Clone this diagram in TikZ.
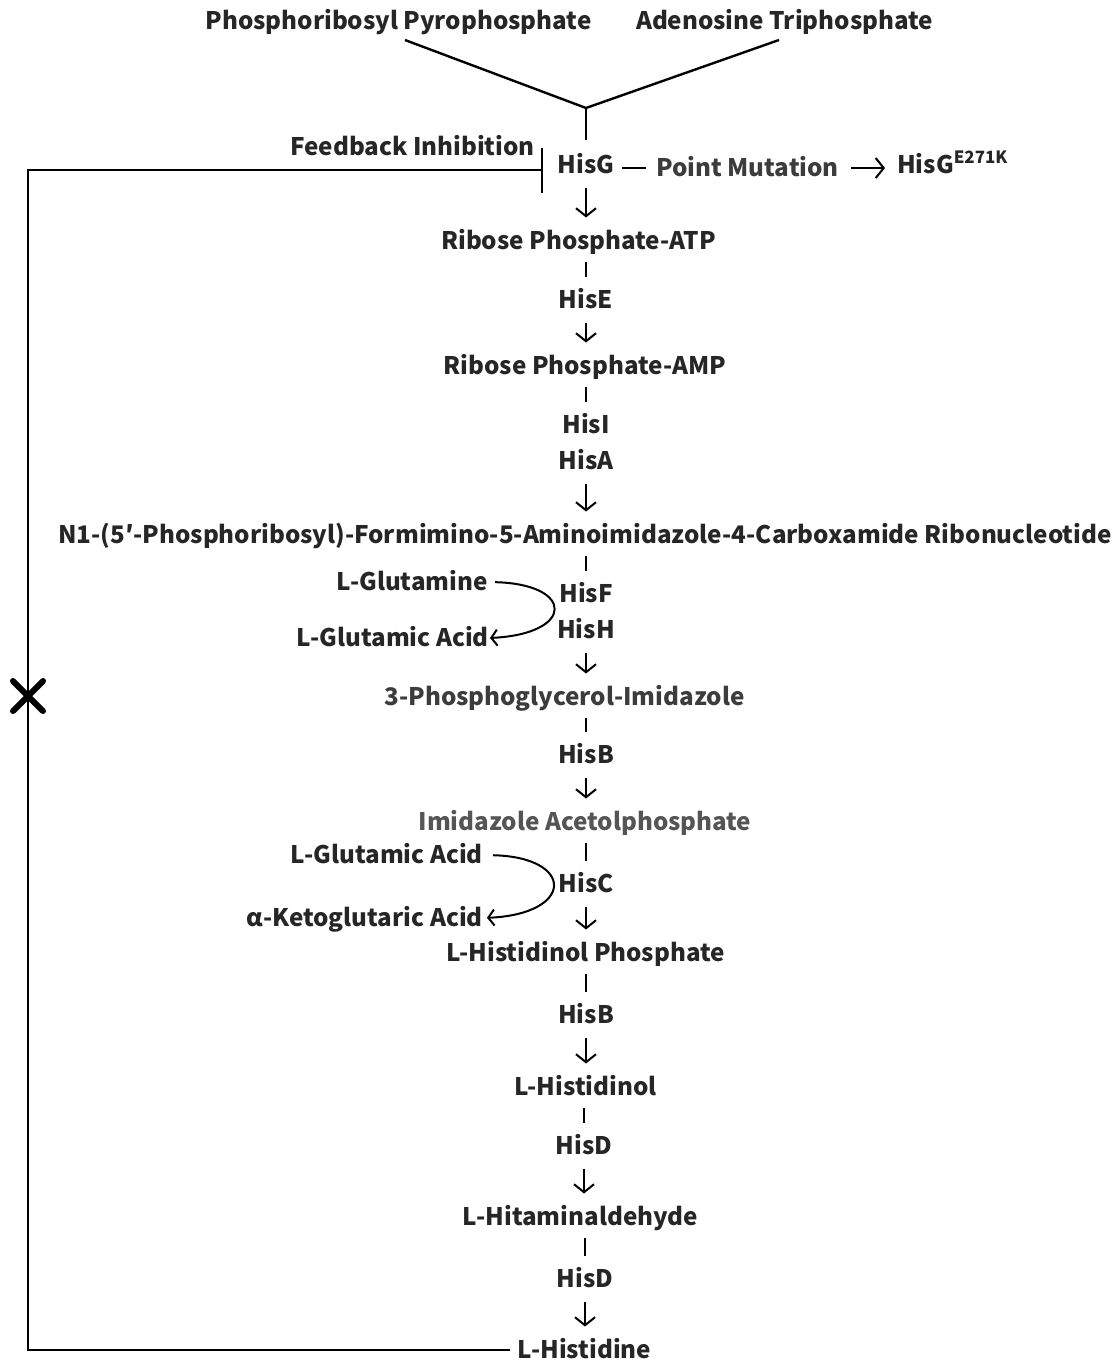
\documentclass[tikz,border=0pt]{standalone}
\usepackage{fontspec}
\setmainfont{Noto Sans CJK SC}
\usetikzlibrary{arrows.meta}
\definecolor{txt}{HTML}{262626}
\definecolor{txtgray}{HTML}{555555}
\definecolor{txtmid}{HTML}{3C3C3C}
\begin{document}
\begin{tikzpicture}[x=1pt,y=-1pt,
  lbl/.style={inner sep=0pt, text height=22.3pt, text depth=6.3pt, font=\fontsize{24.2}{29}\selectfont\bfseries, text=txt},
  conn/.style={line width=2pt, draw=black},
  tickln/.style={conn, shorten <=6.5pt, shorten >=8.5pt},
  arr/.style={conn, -{Straight Barb[length=8pt,width=20pt,line width=2pt]}, shorten <=8pt, shorten >=9pt},
  curvarr/.style={conn, -{Straight Barb[length=6pt,width=16pt,line width=2pt]}}
]
\useasboundingbox[fill=white] (0,0) rectangle (1114,1363);

% top substrates
\node[lbl] (prpp) at (398.5,21) {Phosphoribosyl Pyrophosphate};
\node[lbl] (atp) at (784.5,21) {Adenosine Triphosphate};
\coordinate (p1) at (405,40);
\coordinate (p2) at (779,40);
\coordinate (v) at (586,108);

% main chain
\node[lbl] (hisg) at (586,165) {HisG};
\node[lbl] (fi) at (412.5,147) {Feedback Inhibition};
\node[lbl, text=txtmid] (pm) at (747.5,168) {Point Mutation};
\node[lbl, anchor=west] (hisgm) at (897,165) {HisG\textsuperscript{E271K}};
\node[lbl] (rpatp) at (578.5,241) {Ribose Phosphate-ATP};
\node[lbl] (hise) at (586,300) {HisE};
\node[lbl] (rpamp) at (585,366) {Ribose Phosphate-AMP};
\node[lbl] (hisi) at (586,425) {HisI};
\node[lbl] (hisa) at (586,461) {HisA};
\node[lbl] (n1) at (585,535) {N1-(5′-Phosphoribosyl)-Formimino-5-Aminoimidazole-4-Carboxamide Ribonucleotide};
\node[lbl] (hisf) at (586,594) {HisF};
\node[lbl] (hish) at (586,630) {HisH};
\node[lbl, text=txtmid] (pgi) at (564.5,697) {3-Phosphoglycerol-Imidazole};
\node[lbl] (hisb1) at (586,755) {HisB};
\node[lbl, text=txtgray] (iap) at (585,822) {Imidazole Acetolphosphate};
\node[lbl] (hisc) at (586,884) {HisC};
\node[lbl] (lhp) at (585.5,953) {L-Histidinol Phosphate};
\node[lbl] (hisb2) at (586,1015) {HisB};
\node[lbl] (lhol) at (585.5,1087) {L-Histidinol};
\node[lbl] (hisd1) at (584,1146) {HisD};
\node[lbl] (lha) at (580.5,1217) {L-Hitaminaldehyde};
\node[lbl] (hisd2) at (585,1279) {HisD};
\node[lbl] (lhis) at (584.5,1350) {L-Histidine};

% side substrates
\node[lbl, anchor=east] (glm) at (488,582) {L-Glutamine};
\node[lbl, anchor=east] (glu1) at (489,638) {L-Glutamic Acid};
\node[lbl, anchor=east] (glu2) at (483,855) {L-Glutamic Acid};
\node[lbl, anchor=east] (akg) at (483,918) {α-Ketoglutaric Acid};

% V junction
\draw[conn, line width=2.4pt, line join=miter] (p1) -- (v) -- (p2);
\draw[conn, shorten >=11pt] (v) -- (hisg.north);

% point mutation
\draw[conn, shorten <=8pt, shorten >=10pt] (hisg.east |- pm) -- (pm.west);
\draw[conn, -{Straight Barb[length=8pt,width=20pt,line width=2pt]}, shorten <=12pt, shorten >=12pt] (pm.east) -- (hisgm.west |- pm);

% chain connectors
\draw[arr] (hisg.south) -- (rpatp.north -| hisg);
\draw[tickln] (rpatp.south -| hise) -- (hise.north);
\draw[arr] (hise.south) -- (rpamp.north -| hise);
\draw[tickln] (rpamp.south -| hisi) -- (hisi.north);
\draw[arr] (hisa.south) -- (n1.north -| hisa);
\draw[tickln] (n1.south -| hisf) -- (hisf.north);
\draw[arr] (hish.south) -- (pgi.north -| hish);
\draw[tickln] (pgi.south -| hisb1) -- (hisb1.north);
\draw[arr] (hisb1.south) -- (iap.north -| hisb1);
\draw[tickln] (iap.south -| hisc) -- (hisc.north);
\draw[arr] (hisc.south) -- (lhp.north -| hisc);
\draw[tickln] (lhp.south -| hisb2) -- (hisb2.north);
\draw[arr] (hisb2.south) -- (lhol.north -| hisb2);
\draw[tickln] (lhol.south -| hisd1) -- (hisd1.north);
\draw[arr] (hisd1.south) -- (lha.north -| hisd1);
\draw[tickln] (lha.south -| hisd2) -- (hisd2.north);
\draw[arr] (hisd2.south) -- (lhis.north -| hisd2);

% side reactions
\draw[curvarr, shorten <=7pt, shorten >=1pt] (glm.east) .. controls (575,584) and (575,634) .. (glu1.east);
\draw[curvarr, shorten <=10pt, shorten >=4pt] (glu2.east) .. controls (575,857) and (575,914) .. (akg.east);

% feedback inhibition
\coordinate (xm) at (28,696);
\coordinate (bar) at (543,170);
\draw[conn, -{Bar[width=45pt,line width=2pt]}, shorten <=8pt] (lhis.west) -| (xm) |- (bar);
\draw[line width=6pt, line cap=round] ([shift={(-15,-15)}]xm) -- ([shift={(15,15)}]xm)
  ([shift={(-15,15)}]xm) -- ([shift={(15,-15)}]xm);
\end{tikzpicture}
\end{document}
